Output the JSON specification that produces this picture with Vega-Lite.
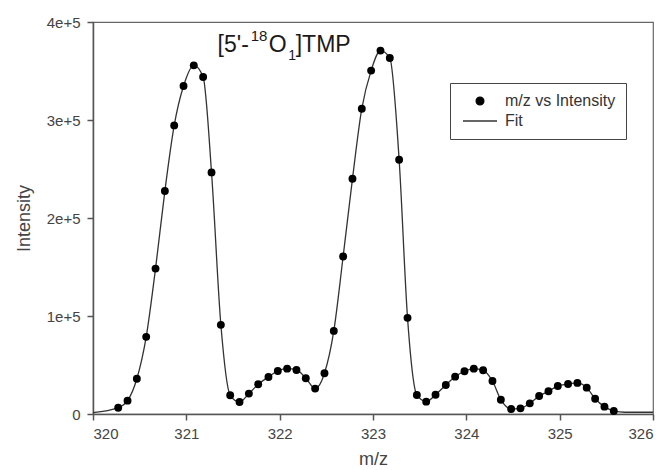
{
  "$schema": "https://vega.github.io/schema/vega-lite/v6.json",
  "width": 560,
  "height": 392,
  "autosize": {"type": "none"},
  "padding": {"left": 93, "top": 22, "right": 13, "bottom": 56},
  "background": "white",
  "config": {
    "font": "Liberation Sans",
    "view": {"stroke": "#666", "strokeWidth": 1.2},
    "axis": {
      "grid": false,
      "domainColor": "#555",
      "domainWidth": 1.5,
      "tickColor": "#555",
      "tickWidth": 1.5,
      "tickSize": 6,
      "labelFont": "Liberation Sans",
      "labelFontSize": 15,
      "labelColor": "#444",
      "titleFont": "Liberation Sans",
      "titleFontSize": 18,
      "titleFontWeight": "normal",
      "titleColor": "#444"
    },
    "text": {"font": "Liberation Sans", "color": "#1a1a1a", "align": "left", "baseline": "alphabetic"}
  },
  "datasets": {
    "ms": [
      {"mz": 320.0, "intensity": 1300, "kind": "fit"},
      {"mz": 320.27, "intensity": 6400, "kind": "point"},
      {"mz": 320.37, "intensity": 13600, "kind": "point"},
      {"mz": 320.47, "intensity": 36000, "kind": "point"},
      {"mz": 320.57, "intensity": 78700, "kind": "point"},
      {"mz": 320.67, "intensity": 148400, "kind": "point"},
      {"mz": 320.77, "intensity": 227500, "kind": "point"},
      {"mz": 320.87, "intensity": 294500, "kind": "point"},
      {"mz": 320.97, "intensity": 334700, "kind": "point"},
      {"mz": 321.08, "intensity": 355800, "kind": "point"},
      {"mz": 321.18, "intensity": 343900, "kind": "point"},
      {"mz": 321.27, "intensity": 246500, "kind": "point"},
      {"mz": 321.37, "intensity": 91000, "kind": "point"},
      {"mz": 321.47, "intensity": 19100, "kind": "point"},
      {"mz": 321.57, "intensity": 12300, "kind": "point"},
      {"mz": 321.67, "intensity": 20800, "kind": "point"},
      {"mz": 321.77, "intensity": 30300, "kind": "point"},
      {"mz": 321.88, "intensity": 37800, "kind": "point"},
      {"mz": 321.98, "intensity": 43900, "kind": "point"},
      {"mz": 322.08, "intensity": 46300, "kind": "point"},
      {"mz": 322.18, "intensity": 44900, "kind": "point"},
      {"mz": 322.28, "intensity": 36500, "kind": "point"},
      {"mz": 322.38, "intensity": 25900, "kind": "point"},
      {"mz": 322.48, "intensity": 41600, "kind": "point"},
      {"mz": 322.58, "intensity": 84800, "kind": "point"},
      {"mz": 322.68, "intensity": 160700, "kind": "point"},
      {"mz": 322.78, "intensity": 240000, "kind": "point"},
      {"mz": 322.88, "intensity": 311500, "kind": "point"},
      {"mz": 322.98, "intensity": 350400, "kind": "point"},
      {"mz": 323.08, "intensity": 370800, "kind": "point"},
      {"mz": 323.18, "intensity": 363300, "kind": "point"},
      {"mz": 323.28, "intensity": 259400, "kind": "point"},
      {"mz": 323.37, "intensity": 98100, "kind": "point"},
      {"mz": 323.47, "intensity": 19400, "kind": "point"},
      {"mz": 323.57, "intensity": 12600, "kind": "point"},
      {"mz": 323.67, "intensity": 19600, "kind": "point"},
      {"mz": 323.78, "intensity": 29600, "kind": "point"},
      {"mz": 323.88, "intensity": 38100, "kind": "point"},
      {"mz": 323.98, "intensity": 43600, "kind": "point"},
      {"mz": 324.08, "intensity": 46300, "kind": "point"},
      {"mz": 324.18, "intensity": 44600, "kind": "point"},
      {"mz": 324.28, "intensity": 33700, "kind": "point"},
      {"mz": 324.37, "intensity": 14600, "kind": "point"},
      {"mz": 324.48, "intensity": 5100, "kind": "point"},
      {"mz": 324.58, "intensity": 5800, "kind": "point"},
      {"mz": 324.68, "intensity": 10900, "kind": "point"},
      {"mz": 324.78, "intensity": 18400, "kind": "point"},
      {"mz": 324.88, "intensity": 23200, "kind": "point"},
      {"mz": 324.98, "intensity": 28600, "kind": "point"},
      {"mz": 325.09, "intensity": 30600, "kind": "point"},
      {"mz": 325.19, "intensity": 31700, "kind": "point"},
      {"mz": 325.29, "intensity": 26900, "kind": "point"},
      {"mz": 325.38, "intensity": 15600, "kind": "point"},
      {"mz": 325.48, "intensity": 7500, "kind": "point"},
      {"mz": 325.58, "intensity": 3100, "kind": "point"},
      {"mz": 325.7, "intensity": 1800, "kind": "fit"},
      {"mz": 326.0, "intensity": 1800, "kind": "fit"}
    ],
    "label": [{"part": "label"}]
  },
  "layer": [
    {
      "data": {"name": "ms"},
      "mark": {"type": "line", "interpolate": "monotone", "strokeWidth": 1.3},
      "encoding": {
        "x": {
          "field": "mz",
          "type": "quantitative",
          "scale": {"domain": [320, 326], "nice": false, "zero": false},
          "axis": {"title": "m/z", "values": [320, 321, 322, 323, 324, 325, 326], "format": "d", "labelPadding": 6, "titlePadding": 9}
        },
        "y": {
          "field": "intensity",
          "type": "quantitative",
          "scale": {"domain": [0, 400000], "nice": false},
          "axis": {"title": "Intensity", "values": [0, 100000, 200000, 300000, 400000], "labelExpr": "datum.value === 0 ? '0' : format(datum.value / 100000, 'd') + 'e+5'", "labelPadding": 7, "titlePadding": 13}
        },
        "color": {
          "datum": "Fit",
          "scale": {"domain": ["m/z vs Intensity", "Fit"], "range": ["#000000", "#333333"]},
          "legend": {
            "orient": "none",
            "legendX": 357,
            "legendY": 61,
            "title": null,
            "fillColor": "white",
            "strokeColor": "#444",
            "padding": 10,
            "labelFontSize": 16,
            "labelColor": "#333",
            "labelFont": "Liberation Sans",
            "labelOffset": 17,
            "symbolOffset": 12,
            "rowPadding": 4,
            "symbolStrokeWidth": 1.3,
            "encode": {
              "symbols": {
                "update": {
                  "shape": {"signal": "datum.value === 'Fit' ? 'stroke' : 'circle'"},
                  "size": {"signal": "datum.value === 'Fit' ? 1156 : 60"},
                  "fill": {"signal": "datum.value === 'Fit' ? 'transparent' : '#000'"},
                  "stroke": {"signal": "datum.value === 'Fit' ? '#333' : '#000'"},
                  "strokeWidth": {"value": 1.3},
                  "opacity": {"value": 1}
                }
              }
            }
          }
        }
      }
    },
    {
      "data": {"name": "ms"},
      "transform": [{"filter": "datum.kind === 'point'"}],
      "mark": {"type": "point", "filled": true, "size": 62, "opacity": 1},
      "encoding": {
        "x": {"field": "mz", "type": "quantitative"},
        "y": {"field": "intensity", "type": "quantitative"},
        "color": {"datum": "m/z vs Intensity"}
      }
    },
    {
      "data": {"name": "label"},
      "mark": {"type": "text", "fontSize": 23, "text": "[5'-"},
      "encoding": {
        "x": {"datum": 321.335, "type": "quantitative"},
        "y": {"datum": 369400, "type": "quantitative"}
      }
    },
    {
      "data": {"name": "label"},
      "mark": {"type": "text", "fontSize": 15, "text": "18"},
      "encoding": {
        "x": {"datum": 321.69, "type": "quantitative"},
        "y": {"datum": 380300, "type": "quantitative"}
      }
    },
    {
      "data": {"name": "label"},
      "mark": {"type": "text", "fontSize": 23, "text": "O"},
      "encoding": {
        "x": {"datum": 321.882, "type": "quantitative"},
        "y": {"datum": 369400, "type": "quantitative"}
      }
    },
    {
      "data": {"name": "label"},
      "mark": {"type": "text", "fontSize": 14, "text": "1"},
      "encoding": {
        "x": {"datum": 322.093, "type": "quantitative"},
        "y": {"datum": 361600, "type": "quantitative"}
      }
    },
    {
      "data": {"name": "label"},
      "mark": {"type": "text", "fontSize": 23, "text": "]TMP"},
      "encoding": {
        "x": {"datum": 322.172, "type": "quantitative"},
        "y": {"datum": 369400, "type": "quantitative"}
      }
    }
  ]
}
